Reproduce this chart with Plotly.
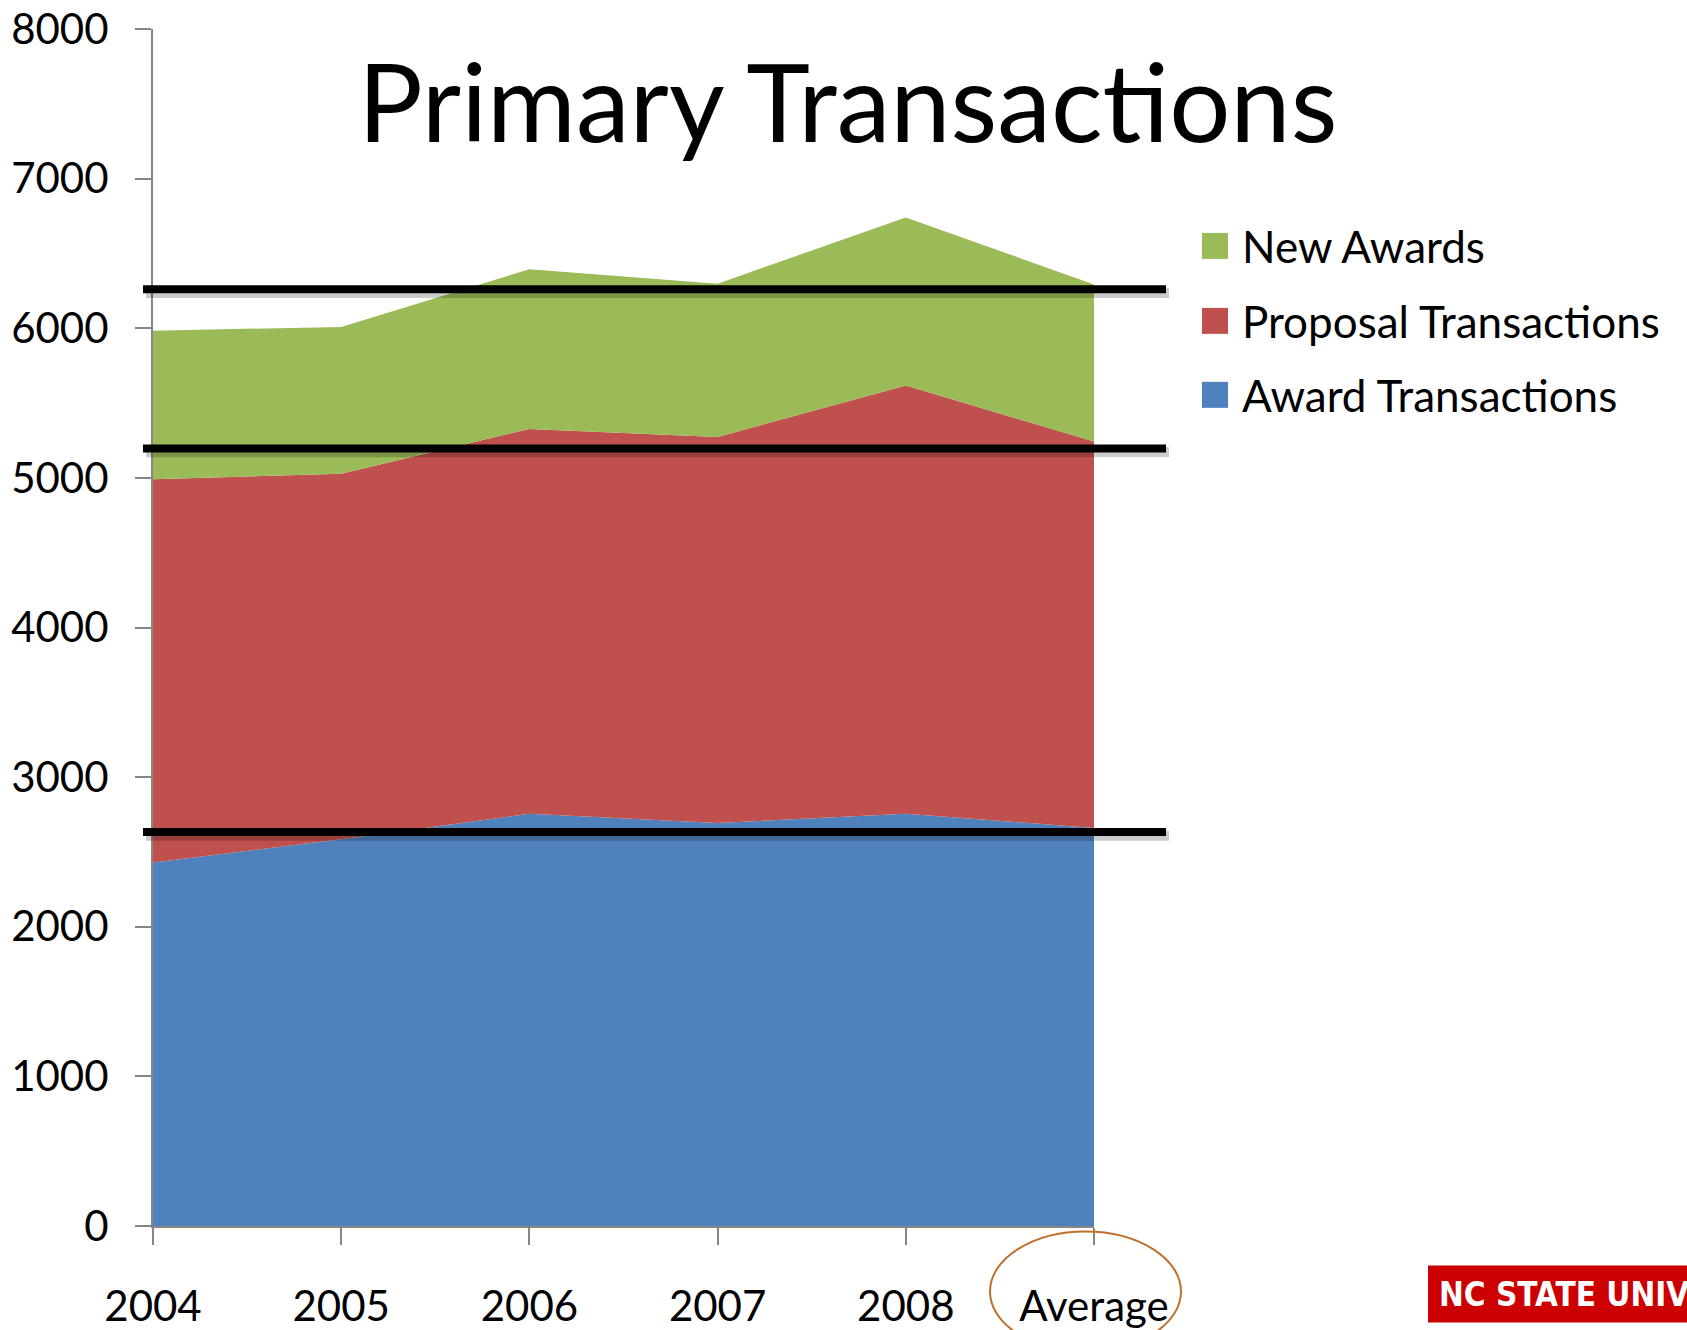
import plotly.graph_objects as go

categories = ["2004", "2005", "2006", "2007", "2008", "Average"]
award_transactions = [2430, 2585, 2755, 2693, 2755, 2660]
proposal_transactions = [2561, 2442, 2572, 2581, 2862, 2583]
new_awards = [993, 982, 1067, 1024, 1124, 1050]
avg_lines = [2633, 5196, 6260]
y_ticks = [0, 1000, 2000, 3000, 4000, 5000, 6000, 7000, 8000]

W, H = 1687, 1330
L, R, T, B = 153, 1094, 29, 1226.5  # plot area in page pixels


def px(x):
    return (x - L) / (R - L)


def py(y):
    return (B - y) / (B - T)


fig = go.Figure()
series = [
    ("Award Transactions", award_transactions, "#4F81BD"),
    ("Proposal Transactions", proposal_transactions, "#C0504D"),
    ("New Awards", new_awards, "#9BBB59"),
]
for name, vals, col in series:
    fig.add_trace(go.Scatter(
        x=categories, y=vals, name=name, stackgroup="one", mode="lines",
        line=dict(width=0, color=col), fillcolor=col, showlegend=False,
    ))

shapes = []
for v in avg_lines:
    shapes.append(dict(type="line", xref="paper", yref="y", x0=px(146), x1=px(1169),
                       y0=v - 24, y1=v - 24, line=dict(color="rgba(0,0,0,0.2)", width=10)))
    shapes.append(dict(type="line", xref="paper", yref="y", x0=px(143), x1=px(1166),
                       y0=v, y1=v, line=dict(color="black", width=8)))

annotations = [
    dict(text="Primary Transactions", xref="paper", yref="paper", x=px(847), y=py(100),
         xanchor="center", yanchor="middle", showarrow=False,
         font=dict(family="Lato", size=108, color="black")),
]

# legend
legend_items = [("New Awards", "#9BBB59", 246), ("Proposal Transactions", "#C0504D", 321),
                ("Award Transactions", "#4F81BD", 395)]
for name, col, yc in legend_items:
    shapes.append(dict(type="rect", xref="paper", yref="paper", x0=px(1202), x1=px(1228),
                       y0=py(yc + 13), y1=py(yc - 13), fillcolor=col, line=dict(width=0)))
    annotations.append(dict(text=name, xref="paper", yref="paper", x=px(1240), y=py(yc),
                            xanchor="left", yanchor="middle", showarrow=False,
                            font=dict(family="Lato", size=44, color="black")))

# ellipse around Average
shapes.append(dict(type="circle", xref="paper", yref="paper", x0=px(990), x1=px(1181),
                   y0=py(1352), y1=py(1232), line=dict(color="#C0702C", width=2)))

# logo
shapes.append(dict(type="rect", xref="paper", yref="paper", x0=px(1428), x1=px(1720),
                   y0=py(1323), y1=py(1266), fillcolor="#CC0000", line=dict(width=0)))
annotations.append(dict(text="<b>NC STATE UNIVERSITY</b>", xref="paper", yref="paper",
                        x=px(1437), y=py(1295), xanchor="left", yanchor="middle", showarrow=False,
                        font=dict(family="DejaVu Sans Condensed, Roboto Condensed, Liberation Sans Narrow, Roboto",
                                  size=33, color="white")))

fig.update_layout(
    width=W, height=H,
    margin=dict(l=L, r=W - R, t=T, b=H - B, autoexpand=False),
    plot_bgcolor="white", paper_bgcolor="white",
    shapes=shapes, annotations=annotations, showlegend=False,
    xaxis=dict(type="category", range=[0, 5], showgrid=False, showline=True,
               linecolor="#868686", linewidth=2, ticks="outside", ticklen=17,
               tickcolor="#868686", tickwidth=2, ticklabelstandoff=26,
               ticklabeloverflow="allow",
               tickfont=dict(family="Lato", size=42, color="black"), zeroline=False),
    yaxis=dict(range=[0, 8000], tickvals=y_ticks, showgrid=False, showline=True,
               linecolor="#868686", linewidth=2, ticks="outside", ticklen=16,
               tickcolor="#868686", tickwidth=2, ticklabelstandoff=18,
               ticklabeloverflow="allow",
               tickfont=dict(family="Lato", size=42, color="black"), zeroline=False),
)

fig.write_html("out.html", config={"displayModeBar": False},
               post_script="document.body.style.margin='0';document.body.style.overflow='hidden';")
